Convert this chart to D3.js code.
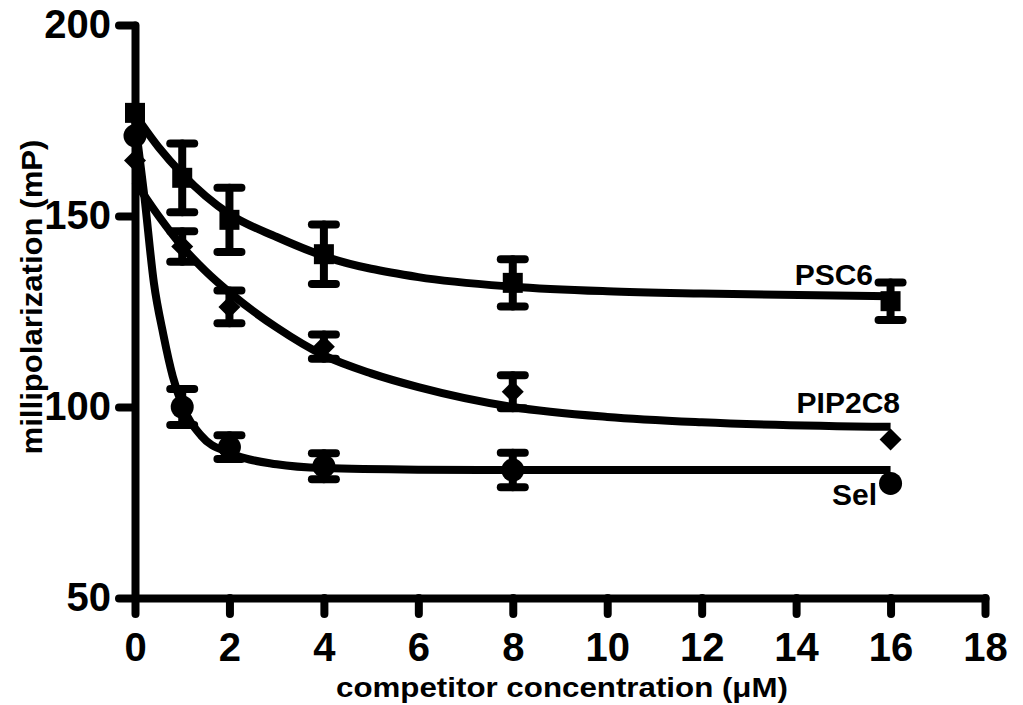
<!DOCTYPE html>
<html>
<head>
<meta charset="utf-8">
<script src="https://cdn.jsdelivr.net/npm/d3@7"></script>
<style>
  body { margin: 0; background: #fff; }
  svg text { font-family: "Liberation Sans", Arial, Helvetica, sans-serif; font-weight: bold; fill: #000; }
</style>
</head>
<body>
<script>
// Data points (mean and error)
const concentrations = [0, 1, 2, 4, 8, 16];

const psc6Mean = [177, 160, 149, 140, 132.5, 127.7];
const psc6Err  = [0, 9, 8.4, 7.8, 6.2, 4.9];

const pip2c8Mean = [164.5, 142, 126.2, 115.8, 104, 91.5];
const pip2c8Err  = [0, 4, 4.3, 3.2, 4.3, 0];

const selMean = [171, 100, 89.5, 84.5, 83.5, 80];
const selErr  = [0, 4.7, 3.1, 3.4, 4.5, 0];

// Fitted curves
const psc6FitX = [0, 0.5, 1, 2, 3, 4, 6, 8, 10, 12, 16];
const psc6FitY = [176.5, 168, 161, 150.5, 144.5, 139.5, 134, 131.5, 130.3, 129.7, 129];

const pip2c8FitX = [0, 0.5, 1, 1.5, 2, 3, 4, 5, 6, 8, 10, 12, 16];
const pip2c8FitY = [159, 150, 142, 135.5, 130, 120.8, 113.5, 108.8, 105.2, 100, 97.4, 96, 94.8];

const selFitX = [0, 0.2, 0.4, 0.6, 0.8, 1, 1.4, 2, 3, 4, 6, 8, 12, 16];
const selFitY = [175, 155, 132.5, 119, 108, 100.5, 92.5, 88, 85, 84, 83.6, 83.5, 83.5, 83.5];

const xTicks = [0, 2, 4, 6, 8, 10, 12, 14, 16, 18];
const yTicks = [50, 100, 150, 200];

const w = 1023, h = 705;

const svg = d3.select("body").append("svg")
  .attr("width", w)
  .attr("height", h);

const x = d3.scaleLinear().domain([0, 18]).range([135, 985]);
const y = d3.scaleLinear().domain([50, 200]).range([598, 25]);

// axes
const xAxis = svg.append("g")
  .attr("transform", "translate(0," + y(50) + ")")
  .call(d3.axisBottom(x).tickValues(xTicks).tickSize(16).tickSizeOuter(0).tickPadding(19));

const yAxis = svg.append("g")
  .attr("transform", "translate(" + x(0) + ",0)")
  .call(d3.axisLeft(y).tickValues(yTicks).tickSize(16).tickSizeOuter(0).tickPadding(8));

[xAxis, yAxis].forEach(function(g) {
  g.select(".domain").attr("stroke", "#000").attr("stroke-width", 8).attr("stroke-linecap", "round");
  g.selectAll(".tick line").attr("stroke", "#000").attr("stroke-width", 8).attr("stroke-linecap", "round");
  g.selectAll(".tick text").attr("font-size", 40).style("font-family", null);
  g.attr("font-family", null).attr("font-size", null);
});

// fitted curves
const line = d3.line()
  .x(d => x(d[0]))
  .y(d => y(d[1]))
  .curve(d3.curveMonotoneX);

[[psc6FitX, psc6FitY], [pip2c8FitX, pip2c8FitY], [selFitX, selFitY]].forEach(function(s) {
  svg.append("path")
    .datum(d3.zip(s[0], s[1]))
    .attr("d", line)
    .attr("fill", "none")
    .attr("stroke", "#000")
    .attr("stroke-width", 8);
});

// error bars
function errorBars(means, errs) {
  const rows = concentrations.map((c, i) => ({ c: c, m: means[i], e: errs[i] })).filter(d => d.e > 0);
  const g = svg.append("g")
    .attr("stroke", "#000")
    .attr("stroke-width", 8)
    .attr("stroke-linecap", "round");
  g.selectAll(".bar").data(rows).enter().append("line")
    .attr("x1", d => x(d.c)).attr("x2", d => x(d.c))
    .attr("y1", d => y(d.m + d.e)).attr("y2", d => y(d.m - d.e));
  g.selectAll(".capTop").data(rows).enter().append("line")
    .attr("x1", d => x(d.c) - 12).attr("x2", d => x(d.c) + 12)
    .attr("y1", d => y(d.m + d.e)).attr("y2", d => y(d.m + d.e));
  g.selectAll(".capBot").data(rows).enter().append("line")
    .attr("x1", d => x(d.c) - 12).attr("x2", d => x(d.c) + 12)
    .attr("y1", d => y(d.m - d.e)).attr("y2", d => y(d.m - d.e));
}
errorBars(psc6Mean, psc6Err);
errorBars(pip2c8Mean, pip2c8Err);
errorBars(selMean, selErr);

// markers
svg.append("g").selectAll("rect")
  .data(concentrations.map((c, i) => [c, psc6Mean[i]]))
  .enter().append("rect")
  .attr("x", d => x(d[0]) - 10).attr("y", d => y(d[1]) - 10)
  .attr("width", 20).attr("height", 20)
  .attr("fill", "#000");

svg.append("g").selectAll("path")
  .data(concentrations.map((c, i) => [c, pip2c8Mean[i]]))
  .enter().append("path")
  .attr("d", d3.symbol().type(d3.symbolSquare).size(242))
  .attr("transform", d => "translate(" + x(d[0]) + "," + y(d[1]) + ") rotate(45)")
  .attr("fill", "#000");

svg.append("g").selectAll("circle")
  .data(concentrations.map((c, i) => [c, selMean[i]]))
  .enter().append("circle")
  .attr("cx", d => x(d[0])).attr("cy", d => y(d[1]))
  .attr("r", 11.5)
  .attr("fill", "#000");

// series labels
svg.append("text").attr("x", 873).attr("y", 285).attr("text-anchor", "end").attr("font-size", 30).text("PSC6");
svg.append("text").attr("x", 900).attr("y", 413).attr("text-anchor", "end").attr("font-size", 30).text("PIP2C8");
svg.append("text").attr("x", 877).attr("y", 505).attr("text-anchor", "end").attr("font-size", 30).text("Sel");

// axis titles
svg.append("text")
  .attr("transform", "translate(42,297) rotate(-90)")
  .attr("text-anchor", "middle")
  .attr("font-size", 29)
  .attr("textLength", 315)
  .attr("lengthAdjust", "spacingAndGlyphs")
  .text("millipolarization (mP)");

svg.append("text")
  .attr("x", 562).attr("y", 697)
  .attr("text-anchor", "middle")
  .attr("font-size", 28)
  .attr("textLength", 452)
  .attr("lengthAdjust", "spacingAndGlyphs")
  .text("competitor concentration (\u03bcM)");
</script>
</body>
</html>
